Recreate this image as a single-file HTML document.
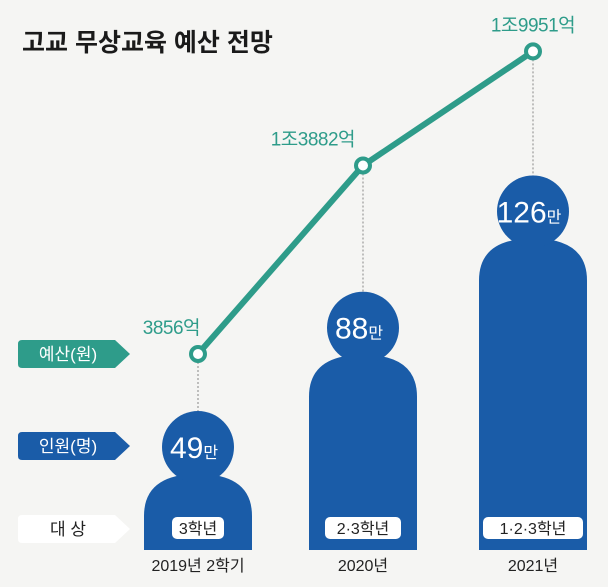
<!DOCTYPE html>
<html><head><meta charset="utf-8"><style>
html,body{margin:0;padding:0;background:#f5f5f3;}
svg{display:block;font-family:"Liberation Sans","Noto Sans CJK KR",sans-serif;}
</style></head><body>
<svg id="chart" width="608" height="587" viewBox="0 0 608 587">
<rect width="608" height="587" fill="#f5f5f3"/>
<text x="22" y="51" font-size="25" font-weight="bold" fill="#1a1a1a">고교 무상교육 예산 전망</text>
<g><path d="M22,340 H115 L130,354 L115,368 H22 Q18,368 18,364 V344 Q18,340 22,340Z" fill="#2e9c8a"/><text x="68" y="360" font-size="17" fill="#fff" text-anchor="middle">예산(원)</text></g>
<g><path d="M22,432 H115 L130,446 L115,460 H22 Q18,460 18,456 V436 Q18,432 22,432Z" fill="#1a5ca8"/><text x="68" y="452" font-size="17" fill="#fff" text-anchor="middle">인원(명)</text></g>
<g><path d="M22,515 H115 L130,529 L115,543 H22 Q18,543 18,539 V519 Q18,515 22,515Z" fill="#fff"/><text x="68" y="535" font-size="17" fill="#222" text-anchor="middle">대 상</text></g>
<g id="figs"></g>
<g id="line"></g>
</svg>
<script>
const categories = ["2019년 2학기","2020년","2021년"];
const grades = ["3학년","2·3학년","1·2·3학년"];
const people = [49,88,126];
const budget = [3856,13882,19951];
const budgetLabels = ["3856억","1조3882억","1조9951억"];
const NS="http://www.w3.org/2000/svg";
const xs=[198,363,533];
const anchors=[['end',2],['end',-8],['middle',0]];
const baseY=550;
function yPeople(v){return baseY-(3.06*v-74);}
function yBudget(v){return 426.5-0.0188*v;}
function mk(tag,attrs,parent){const e=document.createElementNS(NS,tag);for(const k in attrs)e.setAttribute(k,attrs[k]);parent.appendChild(e);return e;}
const figs=document.getElementById('figs'), line=document.getElementById('line');
for(let i=0;i<categories.length;i++){
  const cx=xs[i], top=yPeople(people[i]), hw=54, hr=36, headCy=top-27;
  const by=yBudget(budget[i]);
  const dl=mk('line',{x1:cx,y1:by,x2:cx,y2:headCy-hr,stroke:'#999','stroke-width':1.2,'stroke-dasharray':'2,2'},figs);
  
  
  const body=mk('path',{d:`M${cx-hw},${baseY} V${top+42} Q${cx-hw},${top} ${cx},${top} Q${cx+hw},${top} ${cx+hw},${top+42} V${baseY} Z`,fill:'#1a5ca8'},figs);
  
  
  const head=mk('circle',{cx:cx,cy:headCy,r:hr,fill:'#1a5ca8'},figs);
  
  
  const v=mk('text',{x:cx-4,y:headCy+11,'font-size':30,fill:'#fff','text-anchor':'middle'},figs);
  v.textContent=people[i];
  const s=mk('tspan',{'font-size':16},v);s.textContent='만';
  
  
  const gw=grades[i].length*12+16;
  const gr=mk('rect',{x:cx-gw/2,y:517,width:gw,height:22,rx:5,fill:'#fff'},figs);
  
  
  const gt=mk('text',{x:cx,y:534,'font-size':16,fill:'#222','text-anchor':'middle'},figs);
  gt.textContent=grades[i];
  
  
  const yt=mk('text',{x:cx,y:571,'font-size':16,fill:'#222','text-anchor':'middle'},figs);
  yt.textContent=categories[i];
  
  
}
const pts=xs.map((x,i)=>x+','+yBudget(budget[i])).join(' ');
const pl=mk('polyline',{points:pts,fill:'none',stroke:'#2e9c8a','stroke-width':6,'stroke-linejoin':'round'},line);


for(let i=0;i<xs.length;i++){
  const by=yBudget(budget[i]);
  const c=mk('circle',{cx:xs[i],cy:by,r:7,fill:'#fff',stroke:'#2e9c8a','stroke-width':4},line);
  
  
  const t=mk('text',{x:xs[i]+anchors[i][1],y:by-20,'font-size':19,fill:'#2e9c8a','text-anchor':anchors[i][0],'letter-spacing':'-0.5'},line);
  t.textContent=budgetLabels[i];
  
  
}
</script>
</body></html>
